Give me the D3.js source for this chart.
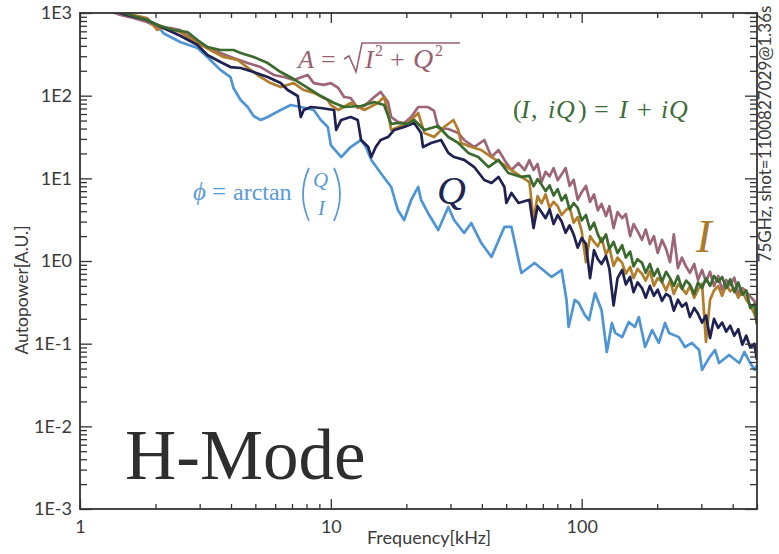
<!DOCTYPE html>
<html>
<head>
<meta charset="utf-8">
<script src="https://cdn.jsdelivr.net/npm/d3@7"></script>
<style>
  body { margin: 0; background: #fff; }
  svg { display: block; }
</style>
</head>
<body>
<svg id="chart" width="779" height="554"></svg>
<script>
// ---- data (frequency in kHz, autopower in A.U.) ----
var xMajor = [1, 10, 100]
var yMajor = [1e-3, 1e-2, 1e-1, 1, 10, 100, 1000]
var yLabels = ["1E-3", "1E-2", "1E-1", "1E0", "1E1", "1E2", "1E3"]

// shared sampling of the noisy high-frequency part (kHz)
var hfFreq = [61.9,64.3,66.7,69.2,71.8,74.5,77.3,80.2,83.2,86.3,89.5,92.9,96.4,100,104,108,112,116,120,125,
  129,134,139,145,150,156,161,167,174,180,187,194,201,209,217,225,233,242,251,261,
  270,281,291,302,313,325,337,350,363,377,391,406,421,437,453,470,488,500]

// phi = arctan(Q/I)
var phiFreq = [1.32,1.45,1.63,1.85,2.03,2.15,2.51,2.94,3.22,3.40,3.63,3.98,4.09,4.37,4.66,4.92,5.25,5.60,6.31,6.92,
  7.59,8.55,9.12,9.73,10.0,11.0,12.0,13.2,13.8,14.5,15.8,17.4,18.5,19.6,20.9,22.3,22.9,24.4,26.8,29.4,
  31.0,34.0,36.3,39.8,43.7,49.2,52.5,56.0,57.5,64.9,75.9,83.2,87.0,88.7,93.8,97.3,103,107,113,120,
  126,132,136,145,154,163,169,179,191,203,215,223,244,258,275,294,302,322,340,353,387,425,445,466,490,500]
var phiPow = [1100,1050,895,800,720,570,446,378,294,248,205,168,124,88.7,72.9,56.8,50.8,55.2,67.1,77.1,
  72.9,67.1,50.8,41.8,25.3,18.1,23.9,29.1,23.9,16.7,11.6,7.86,4.14,3.13,5.47,7.86,5.47,3.81,2.37,4.50,
  3.13,2.18,2.88,1.65,1.12,2.58,2.58,1.03,0.716,0.946,0.641,0.778,0.338,0.159,0.338,0.311,0.222,0.193,0.41,0.256,
  0.0793,0.178,0.135,0.12,0.183,0.159,0.21,0.0912,0.146,0.102,0.178,0.135,0.12,0.0912,0.102,0.0839,0.0481,0.0671,0.0839,0.0583,
  0.0729,0.0583,0.0793,0.061,0.0481,0.0552]

// A = sqrt(I^2 + Q^2)
var ampFreq = [1.32,1.45,1.63,1.85,2.03,2.29,2.51,2.68,2.94,3.22,3.63,4.09,4.66,5.25,5.92,6.49,7.11,8.09,8.55,9.38,
  10.0,10.7,11.3,12.0,12.8,13.6,14.9,15.8,16.9,17.4,18.5,19.6,20.9,22.3,24.4,25.8,26.8,29.4,32.2,34.0,
  37.3,40.9,43.7,46.6,49.2,52.5,56.0,59.2]
var ampPow = [1050,946,871,778,677,659,623,542,446,388,328,286,248,222,178,168,155,178,142,135,
  142,124,96.4,93.7,70.9,75.0,96.4,111,83.7,55.2,48.1,46.7,55.2,72.9,72.9,65.3,40.6,39.5,35.4,29.1,
  23.9,29.1,18.1,22.0,16.7,12.6,15.3,12.6]
var ampPowHf = [16.6,12.6,14.9,9.0,12.0,10.6,13.3,9.5,11.2,13.3,8.1,9.6,5.5,6.8,8.1,5.2,6.4,4.1,4.9,3.5,
  4.6,2.5,3.9,3.3,3.7,2.0,2.8,2.3,1.8,2.4,1.6,2.0,1.25,1.8,1.4,0.97,2.1,0.82,1.1,0.85,
  0.72,0.92,0.59,0.78,0.56,0.74,0.50,0.66,0.45,0.59,0.51,0.63,0.40,0.47,0.43,0.37,0.33,0.25]

// I
var iFreq = [1.32,1.49,1.85,2.03,2.15,2.51,2.94,3.31,3.73,4.25,4.79,5.25,5.75,6.31,7.11,7.80,8.55,9.73,10.0,10.7,
  12.0,13.6,15.4,16.3,16.9,17.4,20.3,22.3,23.6,25.8,28.3,30.8,32.2,33.1,36.3,39.8,43.7,47.9,52.5,57.5]
var iPow = [1050,1000,871,623,677,589,434,357,294,270,205,168,142,127,142,117,108,88.7,77,67.1,
  81.5,67.1,81.5,96.4,61.7,38.5,46.7,61.7,35.4,31.6,41.8,50.8,38.5,26.8,23.9,22.0,18.1,15.3,12.6,10.4]
var iPowHf = [9.0,3.1,6.1,5.0,6.4,4.4,5.2,4.6,3.6,4.1,4.5,2.9,3.4,2.3,0.97,2.0,1.7,1.5,1.9,1.2,
  1.45,0.87,1.1,0.95,0.70,0.85,0.62,0.80,0.70,0.58,0.76,0.50,0.62,0.56,0.44,0.58,0.40,0.52,0.47,0.40,
  0.50,0.36,0.45,0.53,0.105,0.34,0.44,0.50,0.38,0.52,0.43,0.47,0.36,0.44,0.34,0.29,0.23,0.18]

// Q
var qFreq = [1.32,1.49,1.85,2.15,2.51,2.94,3.22,3.63,3.98,4.37,4.92,5.60,6.31,6.73,7.38,7.59,7.80,8.32,9.12,10.3,
  10.5,11.0,12.0,12.8,13.2,14.1,14.5,15.1,15.8,16.9,17.9,19.6,21.5,22.9,23.3,25.1,27.5,29.4,31.0,34.0,
  37.3,40.9,43.7,46.6,49.2,50.1,52.5,56.0]
var qPow = [1100,970,823,659,530,410,310,255,222,216,193,168,142,117,99,55.2,67.1,72.9,70.9,67.1,
  38.5,50.8,55.2,50.8,29.1,23.9,18.1,23.9,29.1,31.6,38.5,41.8,46.7,35.4,23.9,26.8,29.1,20.3,18.1,16.7,
  13.7,9.55,8.79,10.4,7.86,5.03,6.65,5.03]
var qPowHf = [5.5,2.5,4.6,3.9,3.3,4.2,2.8,3.6,3.0,2.2,2.7,2.1,1.45,1.9,1.6,0.62,1.35,1.05,0.92,1.15,
  0.80,0.29,0.62,0.78,0.52,0.64,0.42,0.55,0.47,0.36,0.50,0.38,0.45,0.33,0.40,0.37,0.25,0.34,0.28,0.31,
  0.21,0.27,0.23,0.18,0.22,0.117,0.20,0.155,0.18,0.14,0.165,0.125,0.15,0.097,0.125,0.09,0.10,0.064]

// (I, iQ) = I + iQ
var cplxFreq = [1.32,1.49,1.85,2.03,2.36,2.68,2.94,3.22,3.63,4.09,4.37,4.92,5.60,6.31,7.11,8.09,9.12,10.3,11.3,13.2,
  14.9,16.3,17.4,18.5,20.3,21.5,23.6,26.8,29.4,32.2,35.3,38.7,42.5,46.6,51.0,57.5]
var cplxPow = [1050,1000,823,718,623,589,471,388,357,357,328,294,248,193,159,124,99,81.5,72.9,75,
  83.7,77.1,45.5,46.7,45.5,50.8,38.5,43,31.6,26.8,20.3,18.1,13.7,16.7,11.6,10.4]
var cplxPowHf = [10.7,8.0,9.8,8.4,7.0,8.2,6.2,7.4,5.4,6.3,4.2,5.0,4.4,3.1,3.6,2.4,2.9,2.1,1.7,2.1,
  1.4,1.7,1.25,1.55,1.1,1.3,0.86,1.05,0.95,0.72,0.92,0.66,0.80,0.56,0.74,0.62,0.50,0.66,0.46,0.58,
  0.52,0.40,0.55,0.47,0.62,0.50,0.66,0.56,0.64,0.47,0.60,0.42,0.55,0.39,0.44,0.27,0.30,0.17]

var series = [
  {freq: phiFreq, pow: phiPow, color: "#4f95d4"},
  {freq: ampFreq.concat(hfFreq), pow: ampPow.concat(ampPowHf), color: "#9c6677"},
  {freq: iFreq.concat(hfFreq), pow: iPow.concat(iPowHf), color: "#b27d2c"},
  {freq: qFreq.concat(hfFreq), pow: qPow.concat(qPowHf), color: "#1f2250"},
  {freq: cplxFreq.concat(hfFreq), pow: cplxPow.concat(cplxPowHf), color: "#3b6a2e"}
]

// ---- chart ----
var svg = d3.select("#chart")
var box = {left: 80, top: 13, right: 757, bottom: 509}

var x = d3.scaleLog().domain([1, 500]).range([box.left, box.right])
var y = d3.scaleLog().domain([1e-3, 1e3]).range([box.bottom, box.top])

var isMajor = v => Math.abs(Math.log10(v) - Math.round(Math.log10(v))) < 1e-9
var xMinor = x.ticks().filter(v => !isMajor(v))
var yMinor = y.ticks().filter(v => !isMajor(v))

svg.append("defs").append("clipPath").attr("id", "plotclip")
  .append("rect")
  .attr("x", box.left).attr("y", box.top)
  .attr("width", box.right - box.left).attr("height", box.bottom - box.top)

var line = d3.line()
  .x(d => x(d[0]))
  .y(d => y(d[1]))

svg.append("g").attr("clip-path", "url(#plotclip)")
  .selectAll("path")
  .data(series)
  .join("path")
  .attr("d", s => line(d3.zip(s.freq, s.pow)))
  .attr("fill", "none")
  .attr("stroke", s => s.color)
  .attr("stroke-width", 2.7)
  .attr("stroke-linejoin", "round")

// axes, ticks pointing inward on all four sides
function addAxis(axis, tx, ty) {
  var g = svg.append("g").attr("transform", "translate(" + tx + "," + ty + ")").call(axis)
  g.select(".domain").remove()
  g.selectAll(".tick line").attr("stroke", "#333").attr("stroke-width", 1.3)
  g.selectAll("text").attr("font-family", "Lato, 'Open Sans', sans-serif").attr("font-size", 18).attr("fill", "#3a3a3a")
  return g
}

addAxis(d3.axisBottom(x).tickValues(xMajor).tickSizeInner(-10).tickSizeOuter(0).tickPadding(11).tickFormat(d3.format("d")), 0, box.bottom)
addAxis(d3.axisBottom(x).tickValues(xMinor).tickSize(-5).tickFormat(""), 0, box.bottom)
addAxis(d3.axisTop(x).tickValues(xMajor).tickSize(-10).tickFormat(""), 0, box.top)
addAxis(d3.axisTop(x).tickValues(xMinor).tickSize(-5).tickFormat(""), 0, box.top)
addAxis(d3.axisLeft(y).tickValues(yMajor).tickSizeInner(-12).tickSizeOuter(0).tickPadding(8).tickFormat((d, i) => yLabels[i]), box.left, 0)
addAxis(d3.axisLeft(y).tickValues(yMinor).tickSize(-7).tickFormat(""), box.left, 0)
addAxis(d3.axisRight(y).tickValues(yMajor).tickSize(-12).tickFormat(""), box.right, 0)
addAxis(d3.axisRight(y).tickValues(yMinor).tickSize(-7).tickFormat(""), box.right, 0)

svg.append("rect")
  .attr("x", box.left).attr("y", box.top)
  .attr("width", box.right - box.left).attr("height", box.bottom - box.top)
  .attr("fill", "none").attr("stroke", "#333").attr("stroke-width", 1.8)

// axis titles
var sans = "Lato, 'Open Sans', sans-serif"
svg.append("text")
  .attr("x", 429).attr("y", 544)
  .attr("text-anchor", "middle")
  .attr("font-family", sans).attr("font-size", 18).attr("fill", "#3a3a3a")
  .text("Frequency[kHz]")

svg.append("text")
  .attr("transform", "translate(28,290) rotate(-90)")
  .attr("text-anchor", "middle")
  .attr("font-family", sans).attr("font-size", 17.5).attr("fill", "#3a3a3a")
  .text("Autopower[A.U.]")

svg.append("text")
  .attr("transform", "translate(771,134) rotate(-90)")
  .attr("text-anchor", "middle")
  .attr("font-family", sans).attr("font-size", 17).attr("fill", "#3a3a3a")
  .text("75GHz, shot=1100827029@1.36s")

// formula labels
var ann = svg.append("g").attr("font-family", "'Liberation Serif', 'DejaVu Serif', serif")
function tx(xp, yp, s, size, color, italic) {
  return ann.append("text")
    .attr("x", xp).attr("y", yp)
    .attr("font-size", size)
    .attr("font-style", italic ? "italic" : "normal")
    .attr("fill", color)
    .text(s)
}

var cA = "#9a5f70", cC = "#3d6b37", cP = "#5a9ad6", cQ = "#222552", cI = "#a97b2a"

// A = sqrt(I^2 + Q^2)
tx(298, 68, "A", 26, cA, true)
tx(321, 68, "=", 26, cA, false)
ann.append("path").attr("d", "M344,59 L349,56 L356,72 L362,43 L460,43")
  .attr("fill", "none").attr("stroke", cA).attr("stroke-width", 1.6)
tx(365, 68, "I", 26, cA, true)
tx(375, 56, "2", 16, cA, false)
tx(390, 68, "+", 26, cA, false)
tx(413, 68, "Q", 28, cA, true)
tx(435, 56, "2", 16, cA, false)

// (I, iQ) = I + iQ
;[["(", 513, 0], ["I", 521, 1], [",", 531, 0], ["i", 548, 1], ["Q", 556, 1], [")", 578, 0],
  ["=", 594, 0], ["I", 619, 1], ["+", 637, 0], ["i", 661, 1], ["Q", 669, 1]]
  .forEach(t => tx(t[1], 118, t[0], 26, cC, t[2]))

// phi = arctan(Q/I)
tx(193, 200, "\u03d5", 25, cP, true)
tx(212, 200, "=", 25, cP, false)
tx(233, 200, "arctan", 24, cP, false)
ann.append("path").attr("d", "M309,168 Q297,194 309,221").attr("fill", "none").attr("stroke", cP).attr("stroke-width", 1.8)
ann.append("path").attr("d", "M334,168 Q346,194 334,221").attr("fill", "none").attr("stroke", cP).attr("stroke-width", 1.8)
tx(313, 187, "Q", 21, cP, true)
tx(318, 215, "I", 21, cP, true)

tx(437, 204, "Q", 40, cQ, true)
tx(696, 252, "I", 47, cI, true)

tx(125, 479, "H-Mode", 71, "#2e2e2e", false)
</script>
</body>
</html>
